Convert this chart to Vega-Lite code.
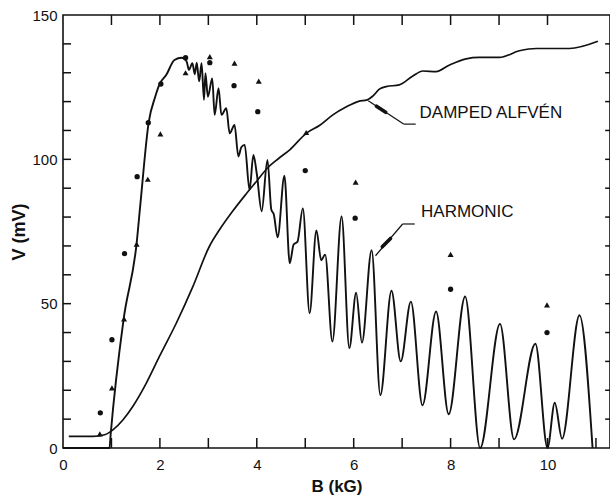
{
  "$schema": "https://vega.github.io/schema/vega-lite/v6.json",
  "width": 547,
  "height": 433,
  "autosize": "none",
  "padding": {"left": 63, "top": 15, "right": 0, "bottom": 51},
  "background": "white",
  "config": {
    "view": {"stroke": "#111", "strokeWidth": 1.6},
    "font": "Liberation Sans"
  },
  "datasets": {
    "harmonic": [
      {"B": 0, "V": 0}, {"B": 0.96, "V": 0}, {"B": 0.985, "V": 5}, {"B": 1.25, "V": 44.5}, {"B": 1.52, "V": 71},
      {"B": 1.6, "V": 85}, {"B": 1.77, "V": 113}, {"B": 1.9, "V": 121.5}, {"B": 2.0, "V": 126.3}, {"B": 2.13, "V": 129.2},
      {"B": 2.3, "V": 134.4}, {"B": 2.45, "V": 135.2}, {"B": 2.55, "V": 134}, {"B": 2.6, "V": 131}, {"B": 2.67, "V": 133.3},
      {"B": 2.72, "V": 129.5}, {"B": 2.76, "V": 133.5}, {"B": 2.81, "V": 127}, {"B": 2.86, "V": 133.3}, {"B": 2.91, "V": 120.6},
      {"B": 2.94, "V": 129.8}, {"B": 2.99, "V": 121.7}, {"B": 3.08, "V": 128}, {"B": 3.13, "V": 115.4}, {"B": 3.21, "V": 124.6},
      {"B": 3.27, "V": 115.4}, {"B": 3.37, "V": 117.7}, {"B": 3.44, "V": 109}, {"B": 3.54, "V": 111.9}, {"B": 3.62, "V": 101},
      {"B": 3.68, "V": 104.2}, {"B": 3.75, "V": 105}, {"B": 3.85, "V": 89.4}, {"B": 3.93, "V": 101.5}, {"B": 4.0, "V": 95},
      {"B": 4.1, "V": 82}, {"B": 4.22, "V": 99.8}, {"B": 4.3, "V": 82.5}, {"B": 4.35, "V": 81}, {"B": 4.43, "V": 73},
      {"B": 4.57, "V": 94.3}, {"B": 4.68, "V": 64}, {"B": 4.76, "V": 70.5}, {"B": 4.84, "V": 71.5}, {"B": 4.95, "V": 83},
      {"B": 5.09, "V": 46.7}, {"B": 5.23, "V": 75.4}, {"B": 5.33, "V": 65}, {"B": 5.41, "V": 67}, {"B": 5.56, "V": 36.9},
      {"B": 5.75, "V": 80.2}, {"B": 5.91, "V": 34.6}, {"B": 6.05, "V": 53.8}, {"B": 6.17, "V": 36.5}, {"B": 6.37, "V": 68.5},
      {"B": 6.55, "V": 18.3}, {"B": 6.78, "V": 54.5}, {"B": 6.97, "V": 30}, {"B": 7.18, "V": 50.7}, {"B": 7.42, "V": 14.8},
      {"B": 7.7, "V": 47.3}, {"B": 7.96, "V": 11.7}, {"B": 8.3, "V": 52.5}, {"B": 8.61, "V": 0}, {"B": 9.02, "V": 43},
      {"B": 9.31, "V": 3}, {"B": 9.75, "V": 36.1}, {"B": 10.0, "V": 0}, {"B": 10.15, "V": 15.7}, {"B": 10.3, "V": 3.2},
      {"B": 10.66, "V": 46}, {"B": 10.93, "V": 0}
    ],
    "alfven": [
      {"B": 0.12, "V": 4}, {"B": 0.62, "V": 4}, {"B": 0.86, "V": 4.6}, {"B": 1.03, "V": 6.3}, {"B": 1.24, "V": 9.8},
      {"B": 1.44, "V": 14.4}, {"B": 1.72, "V": 22.5}, {"B": 1.99, "V": 31.7}, {"B": 2.34, "V": 43.3}, {"B": 2.68, "V": 55.9},
      {"B": 3.02, "V": 69.8}, {"B": 3.23, "V": 75.6}, {"B": 3.5, "V": 82}, {"B": 3.78, "V": 88}, {"B": 4.0, "V": 92.5},
      {"B": 4.22, "V": 97}, {"B": 4.45, "V": 100.3}, {"B": 4.68, "V": 103.3}, {"B": 5.02, "V": 109}, {"B": 5.3, "V": 111.8},
      {"B": 5.57, "V": 115.4}, {"B": 5.85, "V": 118.2}, {"B": 6.1, "V": 120.1}, {"B": 6.28, "V": 120.6}, {"B": 6.4, "V": 122},
      {"B": 6.53, "V": 124.3}, {"B": 6.67, "V": 125.2}, {"B": 6.94, "V": 125.8}, {"B": 7.22, "V": 128.9}, {"B": 7.43, "V": 130.6},
      {"B": 7.7, "V": 130.4}, {"B": 7.98, "V": 132.7}, {"B": 8.32, "V": 134.8}, {"B": 8.59, "V": 135.3}, {"B": 9.01, "V": 135.3},
      {"B": 9.42, "V": 137.6}, {"B": 9.77, "V": 138.4}, {"B": 10.45, "V": 138.4}, {"B": 11.04, "V": 140.9}
    ],
    "points": [
      {"B": 0.77, "V": 12.2, "kind": "circle"}, {"B": 1.01, "V": 37.5, "kind": "circle"}, {"B": 1.27, "V": 67.3, "kind": "circle"},
      {"B": 1.53, "V": 94, "kind": "circle"}, {"B": 1.76, "V": 112.7, "kind": "circle"}, {"B": 2.02, "V": 126.1, "kind": "circle"},
      {"B": 2.53, "V": 135.2, "kind": "circle"}, {"B": 3.03, "V": 133.5, "kind": "circle"}, {"B": 3.53, "V": 125.5, "kind": "circle"},
      {"B": 4.02, "V": 116.5, "kind": "circle"}, {"B": 5.0, "V": 96.1, "kind": "circle"}, {"B": 6.03, "V": 79.6, "kind": "circle"},
      {"B": 8.0, "V": 55, "kind": "circle"}, {"B": 9.99, "V": 40, "kind": "circle"},
      {"B": 0.76, "V": 4.9, "kind": "triangle"}, {"B": 1.01, "V": 20.8, "kind": "triangle"}, {"B": 1.26, "V": 44.7, "kind": "triangle"},
      {"B": 1.52, "V": 70.6, "kind": "triangle"}, {"B": 1.75, "V": 93.1, "kind": "triangle"}, {"B": 2.01, "V": 108.8, "kind": "triangle"},
      {"B": 2.53, "V": 130, "kind": "triangle"}, {"B": 3.03, "V": 135.6, "kind": "triangle"}, {"B": 3.54, "V": 133.3, "kind": "triangle"},
      {"B": 4.04, "V": 127.1, "kind": "triangle"}, {"B": 5.02, "V": 109.3, "kind": "triangle"}, {"B": 6.04, "V": 92.1, "kind": "triangle"},
      {"B": 8.0, "V": 67.1, "kind": "triangle"}, {"B": 9.99, "V": 49.6, "kind": "triangle"}
    ],
    "leaders": [
      {"B": 6.3, "V": 120.3, "B2": 7.03, "V2": 112.2},
      {"B": 7.03, "V": 112.2, "B2": 7.28, "V2": 112.2},
      {"B": 6.45, "V": 66.6, "B2": 7.01, "V2": 77.6},
      {"B": 7.01, "V": 77.6, "B2": 7.26, "V2": 77.6}
    ],
    "arrows": [
      {"B": 6.47, "V": 118.4, "B2": 6.66, "V2": 116.3},
      {"B": 6.59, "V": 69.7, "B2": 6.76, "V2": 72.6}
    ],
    "labels": [
      {"B": 7.36, "V": 116, "text": "DAMPED ALFVÉN"},
      {"B": 7.39, "V": 81.6, "text": "HARMONIC"}
    ],
    "xticks": [{"B": 1}, {"B": 2}, {"B": 3}, {"B": 4}, {"B": 5}, {"B": 6}, {"B": 7}, {"B": 8}, {"B": 9}, {"B": 10}, {"B": 11}],
    "yticks": [{"V": 10}, {"V": 20}, {"V": 30}, {"V": 40}, {"V": 50}, {"V": 60}, {"V": 70}, {"V": 80}, {"V": 90}, {"V": 100}, {"V": 110}, {"V": 120}, {"V": 130}, {"V": 140}]
  },
  "layer": [
    {
      "data": {"name": "harmonic"},
      "mark": {"type": "line", "interpolate": "monotone", "color": "#111", "strokeWidth": 1.9},
      "encoding": {
        "x": {"field": "B", "type": "quantitative", "scale": {"domain": [0, 11.29], "nice": false, "zero": false},
          "axis": {"orient": "bottom", "values": [0, 2, 4, 6, 8, 10], "ticks": false, "domain": false, "grid": false, "labelPadding": 9, "labelFontSize": 15, "labelColor": "#111", "labelFlush": false, "labelOverlap": false, "title": "B (kG)", "titleFontSize": 17, "titleColor": "#111", "titlePadding": 6}},
        "y": {"field": "V", "type": "quantitative", "scale": {"domain": [0, 150], "nice": false},
          "axis": {"orient": "left", "values": [0, 50, 100, 150], "ticks": false, "domain": false, "grid": false, "labelPadding": 6, "labelFontSize": 15, "labelColor": "#111", "labelOverlap": false, "title": "V (mV)", "titleFontSize": 18, "titleColor": "#111", "titlePadding": 3}}
      }
    },
    {
      "data": {"name": "alfven"},
      "mark": {"type": "line", "interpolate": "monotone", "color": "#111", "strokeWidth": 1.7},
      "encoding": {
        "x": {"field": "B", "type": "quantitative", "scale": {"domain": [0, 11.29], "nice": false, "zero": false}, "axis": null},
        "y": {"field": "V", "type": "quantitative", "scale": {"domain": [0, 150], "nice": false}, "axis": null}
      }
    },
    {
      "data": {"name": "xticks"},
      "mark": {"type": "rule", "color": "#111", "strokeWidth": 1.5},
      "encoding": {
        "x": {"field": "B", "type": "quantitative", "scale": {"domain": [0, 11.29], "nice": false, "zero": false}, "axis": null},
        "y": {"datum": 0, "type": "quantitative", "scale": {"domain": [0, 150], "nice": false}, "axis": null},
        "y2": {"datum": 3.46}
      }
    },
    {
      "data": {"name": "xticks"},
      "transform": [{"filter": "datum.B <= 10"}],
      "mark": {"type": "rule", "color": "#111", "strokeWidth": 1.5},
      "encoding": {
        "x": {"field": "B", "type": "quantitative", "scale": {"domain": [0, 11.29], "nice": false, "zero": false}, "axis": null},
        "y": {"datum": 150, "type": "quantitative", "scale": {"domain": [0, 150], "nice": false}, "axis": null},
        "y2": {"datum": 146.54}
      }
    },
    {
      "data": {"name": "yticks"},
      "mark": {"type": "rule", "color": "#111", "strokeWidth": 1.5},
      "encoding": {
        "y": {"field": "V", "type": "quantitative", "scale": {"domain": [0, 150], "nice": false}, "axis": null},
        "x": {"datum": 0, "type": "quantitative", "scale": {"domain": [0, 11.29], "nice": false, "zero": false}, "axis": null},
        "x2": {"datum": 0.165}
      }
    },
    {
      "data": {"name": "yticks"},
      "mark": {"type": "rule", "color": "#111", "strokeWidth": 1.5},
      "encoding": {
        "y": {"field": "V", "type": "quantitative", "scale": {"domain": [0, 150], "nice": false}, "axis": null},
        "x": {"datum": 11.29, "type": "quantitative", "scale": {"domain": [0, 11.29], "nice": false, "zero": false}, "axis": null},
        "x2": {"datum": 11.19}
      }
    },
    {
      "data": {"name": "points"},
      "mark": {"type": "point", "filled": true, "opacity": 1, "color": "#111"},
      "encoding": {
        "x": {"field": "B", "type": "quantitative", "scale": {"domain": [0, 11.29], "nice": false, "zero": false}, "axis": null},
        "y": {"field": "V", "type": "quantitative", "scale": {"domain": [0, 150], "nice": false}, "axis": null},
        "shape": {"field": "kind", "type": "nominal", "scale": {"domain": ["circle", "triangle"], "range": ["circle", "triangle-up"]}, "legend": null},
        "size": {"field": "kind", "type": "nominal", "scale": {"domain": ["circle", "triangle"], "range": [28, 36]}, "legend": null}
      }
    },
    {
      "data": {"name": "leaders"},
      "mark": {"type": "rule", "color": "#111", "strokeWidth": 1.2},
      "encoding": {
        "x": {"field": "B", "type": "quantitative", "scale": {"domain": [0, 11.29], "nice": false, "zero": false}, "axis": null},
        "y": {"field": "V", "type": "quantitative", "scale": {"domain": [0, 150], "nice": false}, "axis": null},
        "x2": {"field": "B2"},
        "y2": {"field": "V2"}
      }
    },
    {
      "data": {"name": "arrows"},
      "mark": {"type": "rule", "color": "#111", "strokeWidth": 3.6, "strokeCap": "round"},
      "encoding": {
        "x": {"field": "B", "type": "quantitative", "scale": {"domain": [0, 11.29], "nice": false, "zero": false}, "axis": null},
        "y": {"field": "V", "type": "quantitative", "scale": {"domain": [0, 150], "nice": false}, "axis": null},
        "x2": {"field": "B2"},
        "y2": {"field": "V2"}
      }
    },
    {
      "data": {"name": "labels"},
      "mark": {"type": "text", "align": "left", "baseline": "middle", "fontSize": 17, "font": "Liberation Sans", "color": "#111"},
      "encoding": {
        "x": {"field": "B", "type": "quantitative", "scale": {"domain": [0, 11.29], "nice": false, "zero": false}, "axis": null},
        "y": {"field": "V", "type": "quantitative", "scale": {"domain": [0, 150], "nice": false}, "axis": null},
        "text": {"field": "text"}
      }
    }
  ],
  "resolve": {"axis": {"x": "independent", "y": "independent"}}
}
